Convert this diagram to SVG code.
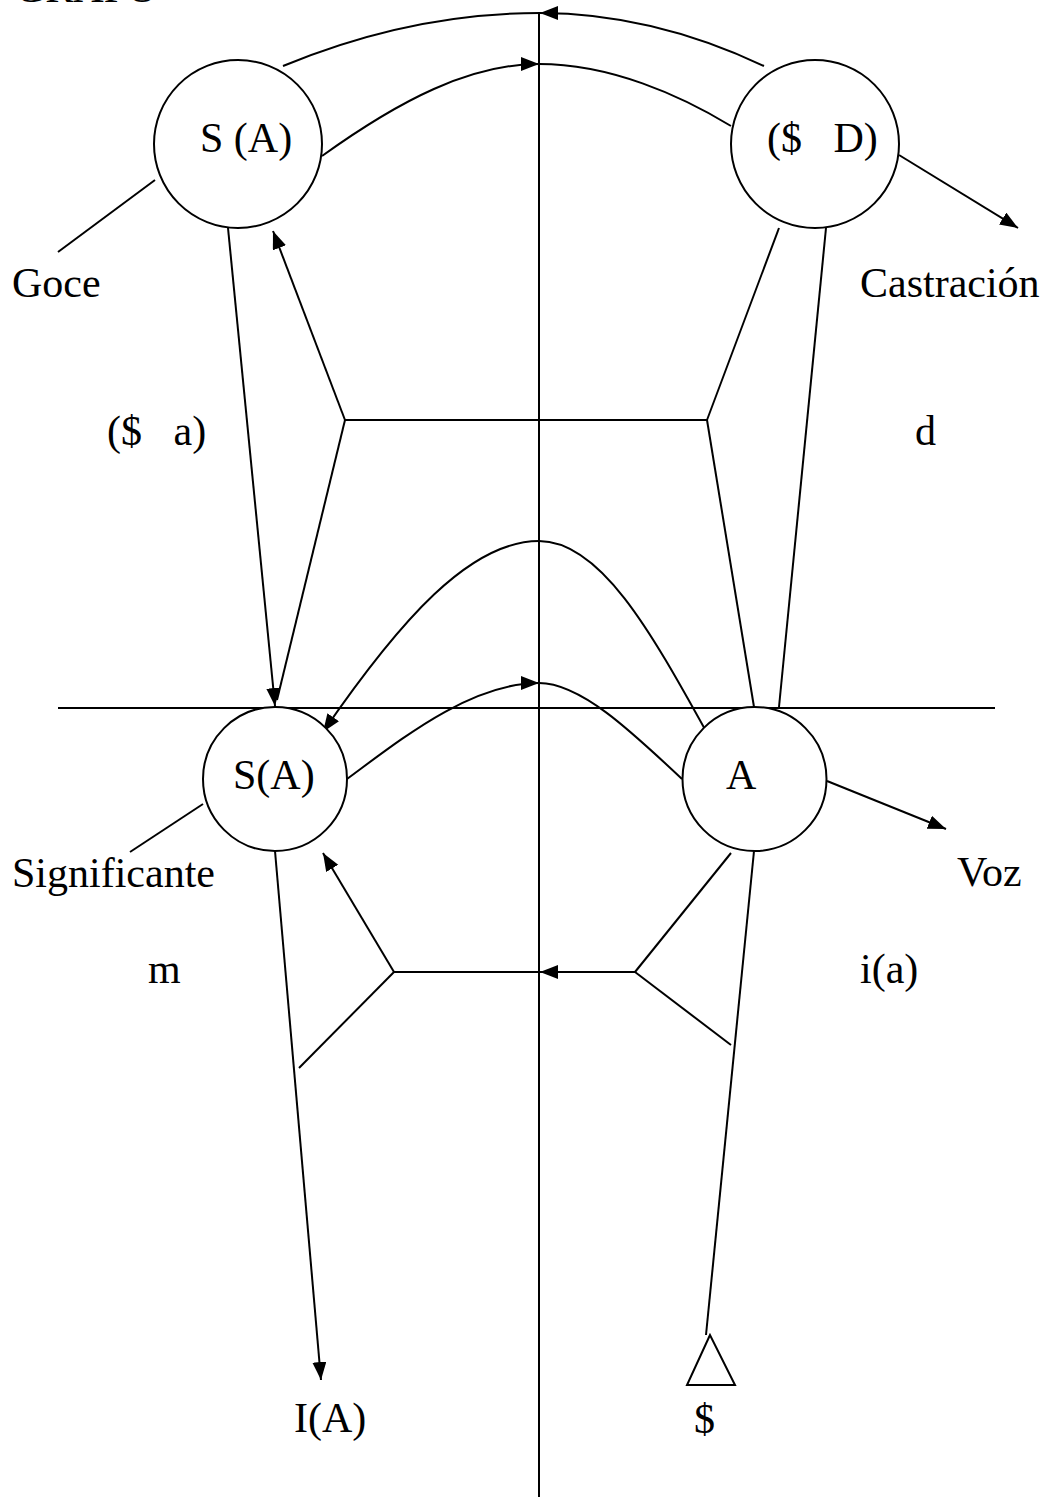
<svg xmlns="http://www.w3.org/2000/svg" width="1050" height="1501" viewBox="0 0 1050 1501">
<style>
text{font-family:"Liberation Serif","Times New Roman",serif;font-size:42px;fill:#000;white-space:pre}
.n{fill:#fff;stroke:#000;stroke-width:2}
.c{fill:none;stroke:#000;stroke-width:2}
.a{marker-end:url(#ah)}
</style>
<defs>
<marker id="ah" markerUnits="userSpaceOnUse" markerWidth="20" markerHeight="16" refX="18" refY="7" orient="auto">
<path d="M0,0 L18,7 L0,14 z" fill="#000"/>
</marker>
</defs>
<rect width="1050" height="1501" fill="#fff"/>
<text x="15" y="2">GRAFO</text>
<g id="connectors">
<line class="c" x1="539" y1="13" x2="539" y2="1497"/>
<line class="c" x1="58" y1="708" x2="995" y2="708"/>
<path class="c a" d="M764,66 Q651.5,13 540,13"/>
<path class="c" d="M540,13 Q411,13 283,66"/>
<path class="c a" d="M322,156 C400,100 470,64 539,64"/>
<path class="c" d="M539,64 C610,64 680,95 731,126"/>
<line class="c" x1="155" y1="180" x2="58" y2="252"/>
<line class="c a" x1="899" y1="155" x2="1018" y2="228"/>
<line class="c a" x1="228" y1="228" x2="275" y2="706"/>
<line class="c" x1="345" y1="420" x2="277" y2="700"/>
<line class="c a" x1="345" y1="420" x2="273" y2="231"/>
<line class="c" x1="345" y1="420" x2="707" y2="420"/>
<line class="c" x1="707" y1="420" x2="779" y2="228"/>
<line class="c" x1="707" y1="420" x2="754" y2="707"/>
<line class="c" x1="826" y1="228" x2="779" y2="707"/>
<path class="c a" d="M707,733 C650,630 600,541 539,541 C470,541 400,620 323,732"/>
<path class="c a" d="M347,779 C400,740 470,683 539,683"/>
<path class="c" d="M539,683 C580,683 630,730 682,779"/>
<line class="c" x1="203" y1="804" x2="130" y2="852"/>
<line class="c a" x1="827" y1="781" x2="946" y2="829"/>
<line class="c a" x1="275" y1="851" x2="321" y2="1380"/>
<line class="c a" x1="394" y1="972" x2="323" y2="853"/>
<line class="c" x1="394" y1="972" x2="299" y2="1068"/>
<line class="c" x1="394" y1="972" x2="539" y2="972"/>
<line class="c a" x1="635" y1="972" x2="540" y2="972"/>
<line class="c" x1="635" y1="972" x2="731" y2="853"/>
<line class="c" x1="635" y1="972" x2="731" y2="1045"/>
<line class="c" x1="754" y1="851" x2="706" y2="1335"/>
</g>
<g id="node-sa-top"><circle class="n" cx="238" cy="144" r="84"/><text x="200" y="152">S (A)</text></g>
<g id="node-sd"><circle class="n" cx="815" cy="144" r="84"/><text x="767" y="152">($   D)</text></g>
<g id="node-sa-bottom"><circle class="n" cx="275" cy="779" r="72"/><text x="233" y="789">S(A)</text></g>
<g id="node-a"><circle class="n" cx="754.5" cy="779" r="72"/><text x="726" y="789">A</text></g>
<g id="node-s-barred"><polygon class="n" points="710,1335 687,1385 735,1385"/><text x="694" y="1433">$</text></g>
<g id="labels">
<text x="12" y="297">Goce</text>
<text x="860" y="297">Castración</text>
<text x="107" y="445">($   a)</text>
<text x="915" y="445">d</text>
<text x="12" y="887">Significante</text>
<text x="957" y="886">Voz</text>
<text x="148" y="983">m</text>
<text x="860" y="983">i(a)</text>
<text x="294" y="1432">I(A)</text>
</g>
</svg>
